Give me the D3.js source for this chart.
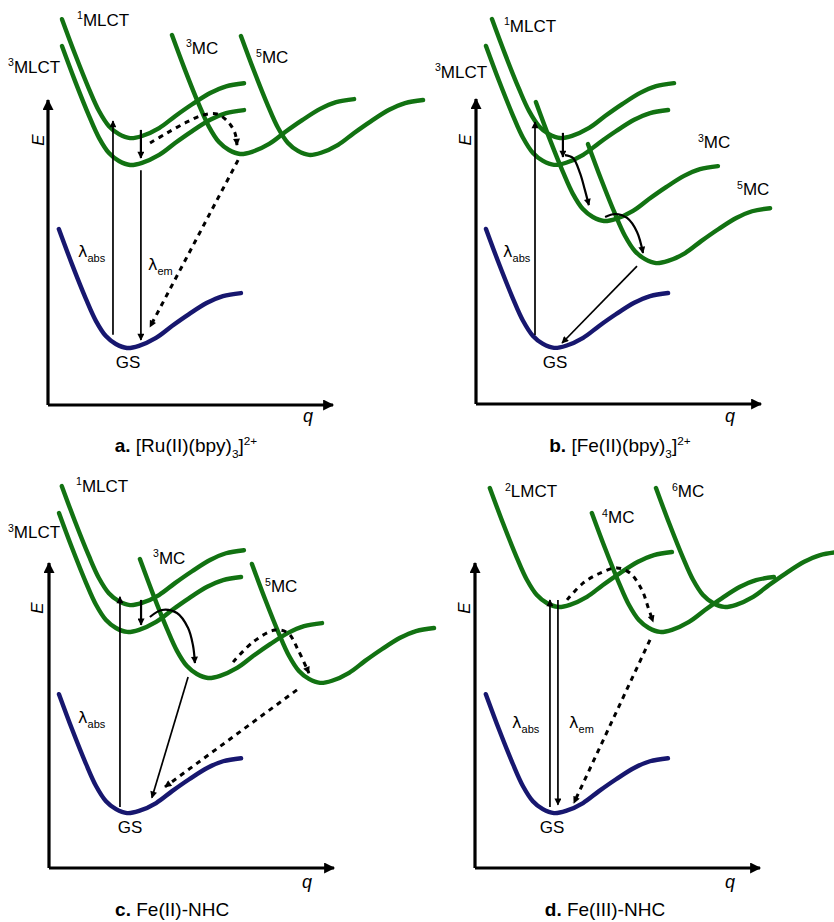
<!DOCTYPE html>
<html><head><meta charset="utf-8">
<script src="https://cdn.jsdelivr.net/npm/d3@7"></script>
<style>
body{margin:0;background:#fff;}
svg{display:block;font-family:"Liberation Sans",Arial,sans-serif;}
</style></head><body>
<svg id="chart" width="834" height="922"></svg>
<script>
// ---------------- DATA ----------------
// Shape of a potential-energy curve relative to its minimum [dq, dE]
const curveShape = [[-2.39,3.90],[-1.93,2.75],[-1.44,1.61],[-1.09,0.89],[-0.74,0.39],[-0.39,0.13],[0,0],[0.42,0.07],[1.02,0.33],[1.58,0.72],[2.18,1.11],[2.81,1.48],[3.37,1.70],[4.00,1.80]];

const panelIds = ["a","b","c","d"];
const panelTitles = {
  a:[{t:"a.",b:1},{t:" [Ru(II)(bpy)"},{t:"3",sub:1},{t:"]"},{t:"2+",sup:1}],
  b:[{t:"b.",b:1},{t:" [Fe(II)(bpy)"},{t:"3",sub:1},{t:"]"},{t:"2+",sup:1}],
  c:[{t:"c.",b:1},{t:" Fe(II)-NHC"}],
  d:[{t:"d.",b:1},{t:" Fe(III)-NHC"}]
};
const titleAnchors = {a:[4.84,-1.54], b:[5.05,-1.57], c:[4.32,-1.57], d:[4.56,-1.57]};

// Minima of the states (q, E)
const stateMinima = [
  {panel:"a", state:"GS",    kind:"ground",  q:2.77, E:1.87},
  {panel:"a", state:"1MLCT", kind:"excited", q:2.88, E:8.75},
  {panel:"a", state:"3MLCT", kind:"excited", q:2.88, E:7.87},
  {panel:"a", state:"3MC",   kind:"excited", q:6.74, E:8.23},
  {panel:"a", state:"5MC",   kind:"excited", q:9.16, E:8.20},
  {panel:"b", state:"GS",    kind:"ground",  q:2.74, E:1.84},
  {panel:"b", state:"1MLCT", kind:"excited", q:2.95, E:8.72},
  {panel:"b", state:"3MLCT", kind:"excited", q:2.74, E:7.84},
  {panel:"b", state:"3MC",   kind:"excited", q:4.49, E:6.00},
  {panel:"b", state:"5MC",   kind:"excited", q:6.32, E:4.62},
  {panel:"c", state:"GS",    kind:"ground",  q:2.74, E:1.80},
  {panel:"c", state:"1MLCT", kind:"excited", q:2.84, E:8.62},
  {panel:"c", state:"3MLCT", kind:"excited", q:2.74, E:7.74},
  {panel:"c", state:"3MC",   kind:"excited", q:5.58, E:6.23},
  {panel:"c", state:"5MC",   kind:"excited", q:9.51, E:6.07},
  {panel:"d", state:"GS",    kind:"ground",  q:2.77, E:1.80},
  {panel:"d", state:"2LMCT", kind:"excited", q:2.91, E:8.56},
  {panel:"d", state:"4MC",   kind:"excited", q:6.49, E:7.74},
  {panel:"d", state:"6MC",   kind:"excited", q:8.74, E:8.56}
];

// State labels: superscript multiplicity + name, anchored at (q, E)
const stateLabels = [
  {panel:"a", sup:"1", text:"MLCT", q:1.02, E:12.43},
  {panel:"a", sup:"3", text:"MLCT", q:-1.40, E:10.89},
  {panel:"a", sup:"3", text:"MC", q:4.84, E:11.51},
  {panel:"a", sup:"5", text:"MC", q:7.30, E:11.21},
  {panel:"b", sup:"1", text:"MLCT", q:0.98, E:12.20},
  {panel:"b", sup:"3", text:"MLCT", q:-1.44, E:10.69},
  {panel:"b", sup:"3", text:"MC", q:7.79, E:8.39},
  {panel:"b", sup:"5", text:"MC", q:9.16, E:6.85},
  {panel:"c", sup:"1", text:"MLCT", q:0.95, E:12.33},
  {panel:"c", sup:"3", text:"MLCT", q:-1.44, E:10.82},
  {panel:"c", sup:"3", text:"MC", q:3.65, E:9.97},
  {panel:"c", sup:"5", text:"MC", q:7.58, E:9.05},
  {panel:"d", sup:"2", text:"LMCT", q:1.05, E:12.16},
  {panel:"d", sup:"4", text:"MC", q:4.46, E:11.31},
  {panel:"d", sup:"6", text:"MC", q:6.91, E:12.16}
];
const groundLabels = [
  {panel:"a", text:"GS", q:2.81, E:1.21},
  {panel:"b", text:"GS", q:2.77, E:1.18},
  {panel:"c", text:"GS", q:2.84, E:1.15},
  {panel:"d", text:"GS", q:2.70, E:1.15}
];
const lambdaLabels = [
  {panel:"a", sub:"abs", q:1.05, E:4.85},
  {panel:"a", sub:"em",  q:3.51, E:4.43},
  {panel:"b", sub:"abs", q:0.95, E:4.82},
  {panel:"c", sub:"abs", q:1.02, E:4.75},
  {panel:"d", sub:"abs", q:1.30, E:4.59},
  {panel:"d", sub:"em",  q:3.30, E:4.59}
];
const axisLabelAnchors = {
  a:{q:[8.95,-0.56], E:[-0.35,8.69]},
  b:{q:[8.74,-0.59], E:[-0.39,8.66]},
  c:{q:[8.88,-0.66], E:[-0.42,8.52]},
  d:{q:[8.77,-0.66], E:[-0.39,8.52]}
};

// Transitions: kind = absorption / emission / relaxation / nonradiative
const transitions = [
  {panel:"a", kind:"absorption",  pts:[[2.28,2.30],[2.28,9.31]]},
  {panel:"a", kind:"relaxation",  pts:[[3.26,9.02],[3.26,8.10]]},
  {panel:"a", kind:"emission",    pts:[[3.26,7.70],[3.26,2.13]]},
  {panel:"a", kind:"nonradiative",pts:[[3.58,8.59],[4.18,8.92],[4.88,9.28],[5.44,9.51],[5.93,9.54],[6.32,9.28],[6.56,8.92],[6.63,8.52]]},
  {panel:"a", kind:"nonradiative",pts:[[6.67,8.03],[3.58,2.56]]},
  {panel:"b", kind:"absorption",  pts:[[2.07,2.26],[2.07,9.25]]},
  {panel:"b", kind:"relaxation",  pts:[[3.05,8.89],[3.05,8.10]]},
  {panel:"b", kind:"relaxation",  pts:[[3.12,8.16],[3.40,8.07],[3.65,7.57],[3.82,7.02],[3.96,6.52]]},
  {panel:"b", kind:"relaxation",  pts:[[4.53,6.13],[4.88,6.23],[5.30,6.10],[5.65,5.64],[5.86,4.95]]},
  {panel:"b", kind:"emission",    pts:[[5.65,4.52],[3.02,2.00]]},
  {panel:"c", kind:"absorption",  pts:[[2.49,2.00],[2.49,8.89]]},
  {panel:"c", kind:"relaxation",  pts:[[3.23,8.79],[3.23,7.97]]},
  {panel:"c", kind:"relaxation",  pts:[[3.54,8.23],[3.96,8.46],[4.49,8.36],[4.88,7.87],[5.05,7.31],[5.12,6.72]]},
  {panel:"c", kind:"emission",    pts:[[4.88,6.26],[3.61,2.30]]},
  {panel:"c", kind:"nonradiative",pts:[[6.46,6.75],[7.16,7.41],[7.93,7.80],[8.39,7.70],[8.74,7.15],[9.12,6.39]]},
  {panel:"c", kind:"nonradiative",pts:[[8.70,5.84],[4.07,2.66]]},
  {panel:"d", kind:"absorption",  pts:[[2.63,2.00],[2.63,8.79]]},
  {panel:"d", kind:"emission",    pts:[[2.91,8.79],[2.91,2.07]]},
  {panel:"d", kind:"nonradiative",pts:[[3.23,8.79],[3.79,9.34],[4.39,9.67],[4.98,9.84],[5.44,9.67],[5.86,9.11],[6.07,8.56],[6.25,8.07]]},
  {panel:"d", kind:"nonradiative",pts:[[6.14,7.48],[3.47,2.13]]}
];

// ---------------- LAYOUT / STYLE ----------------
const panelOrigins = {a:[48,405], b:[476,404], c:[49,868], d:[475,868]};
const axisW = 285, axisH = 305;
const GREEN = "#127212", NAVY = "#17176f";
const transStyle = {
  absorption:  {w:1.7, dash:null},
  emission:    {w:1.7, dash:null},
  relaxation:  {w:2.2, dash:null},
  nonradiative:{w:3,   dash:"5,5"}
};

const svg = d3.select("#chart");
const defs = svg.append("defs");
function marker(id, len, wid){
  defs.append("marker").attr("id",id)
    .attr("viewBox","0 0 10 10").attr("refX",9).attr("refY",5)
    .attr("markerUnits","userSpaceOnUse")
    .attr("markerWidth",len).attr("markerHeight",wid)
    .attr("orient","auto")
    .append("path").attr("d","M0,0L10,5L0,10z").attr("fill","#000");
}
marker("ah", 9, 7);
marker("ahAxis", 13, 11);

function rich(textSel, segs, fs){
  let off = 0;
  segs.forEach(s=>{
    const ts = textSel.append("tspan").text(s.t);
    let target = 0, size = fs;
    if (s.sub){ target = fs*0.3; size = fs*0.62; }
    if (s.sup){ target = -fs*0.38; size = fs*0.62; }
    ts.attr("dy", target-off).attr("font-size", size);
    if (s.b) ts.attr("font-weight","bold");
    off = target;
  });
}

panelIds.forEach(p=>{
  const [ox, oy] = panelOrigins[p];
  const x = d3.scaleLinear().domain([0,10]).range([ox, ox+axisW]);
  const y = d3.scaleLinear().domain([0,10]).range([oy, oy-axisH]);
  const g = svg.append("g").attr("class","panel-"+p);
  const line = d3.line().x(d=>x(d[0])).y(d=>y(d[1])).curve(d3.curveCatmullRom.alpha(0.5));
  const straight = d3.line().x(d=>x(d[0])).y(d=>y(d[1]));

  // axes
  g.append("path").attr("d", straight([[0,0],[0,10]]))
    .attr("stroke","#000").attr("stroke-width",3.2).attr("fill","none").attr("marker-end","url(#ahAxis)");
  g.append("path").attr("d", straight([[0,0],[10,0]]))
    .attr("stroke","#000").attr("stroke-width",3.2).attr("fill","none").attr("marker-end","url(#ahAxis)");
  const al = axisLabelAnchors[p];
  g.append("text").attr("x", x(al.q[0])).attr("y", y(al.q[1]))
    .attr("font-size",18).attr("font-style","italic").text("q");
  g.append("text").attr("transform",`translate(${x(al.E[0])},${y(al.E[1])}) rotate(-90)`)
    .attr("text-anchor","middle").attr("dy","0.35em")
    .attr("font-size",17).attr("font-style","italic").text("E");

  // curves
  stateMinima.filter(s=>s.panel===p).forEach(s=>{
    const pts = curveShape.map(([dq,dE])=>[s.q+dq, s.E+dE]);
    g.append("path").attr("d", line(pts)).attr("fill","none")
      .attr("stroke", s.kind==="ground"?NAVY:GREEN)
      .attr("stroke-width",4.4).attr("stroke-linecap","round");
  });

  // transitions
  transitions.filter(t=>t.panel===p).forEach(t=>{
    const st = transStyle[t.kind];
    g.append("path").attr("d", t.pts.length>2 ? line(t.pts) : straight(t.pts))
      .attr("fill","none").attr("stroke","#000").attr("stroke-width",st.w)
      .attr("stroke-dasharray", st.dash)
      .attr("marker-end","url(#ah)");
  });

  // labels
  stateLabels.filter(l=>l.panel===p).forEach(l=>{
    const t = g.append("text").attr("x", x(l.q)).attr("y", y(l.E)).attr("font-size",17);
    rich(t, [{t:l.sup, sup:1},{t:l.text}], 17);
  });
  groundLabels.filter(l=>l.panel===p).forEach(l=>{
    g.append("text").attr("x", x(l.q)).attr("y", y(l.E)).attr("text-anchor","middle")
      .attr("font-size",17).text(l.text);
  });
  lambdaLabels.filter(l=>l.panel===p).forEach(l=>{
    const t = g.append("text").attr("x", x(l.q)).attr("y", y(l.E)).attr("font-size",17);
    t.append("tspan").attr("font-family","DejaVu Sans").attr("font-size",16).text("λ");
    t.append("tspan").attr("font-size",11).attr("dy",5).text(l.sub);
  });
  const ta = titleAnchors[p];
  const tt = g.append("text").attr("x", x(ta[0])).attr("y", y(ta[1]))
    .attr("text-anchor","middle").attr("font-size",19);
  rich(tt, panelTitles[p], 19);
});
</script>
</body></html>
